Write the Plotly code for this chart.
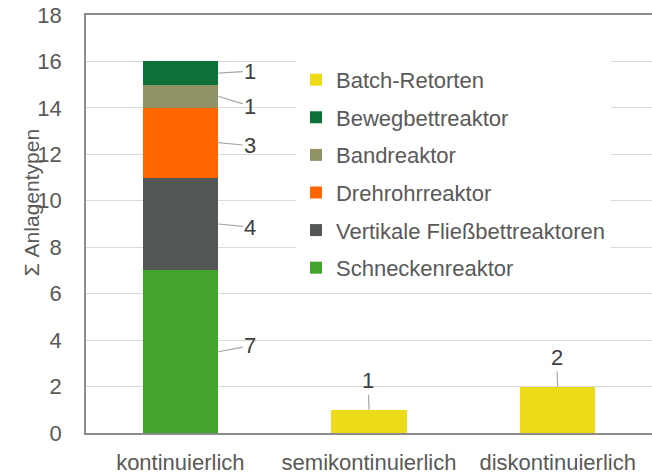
import plotly.graph_objects as go

categories = ["kontinuierlich", "semikontinuierlich", "diskontinuierlich"]
series_names = ["Schneckenreaktor", "Vertikale Fließbettreaktoren", "Drehrohrreaktor",
                "Bandreaktor", "Bewegbettreaktor", "Batch-Retorten"]
schnecken = [7, None, None]
vertikal = [4, None, None]
drehrohr = [3, None, None]
band = [1, None, None]
bewegbett = [1, None, None]
batch = [None, 1, 2]
values = [schnecken, vertikal, drehrohr, band, bewegbett, batch]
colors = ["#42A42C", "#525756", "#FF6600", "#909165", "#0E7039", "#EDDB1A"]
y_ticks = list(range(0, 19, 2))
y_title = "Σ Anlagentypen"

FONT = "Liberation Sans, Arial, sans-serif"
fig = go.Figure()
n = len(series_names)
for i, (name, vals, col) in enumerate(zip(series_names, values, colors)):
    fig.add_trace(go.Bar(x=categories, y=vals, name=name, marker_color=col,
                         marker_line_width=0, legendgroup=f"g{i}",
                         legendrank=100 + (n - i)))

# value labels with leader lines
base = [0, 0, 0]
for si, vals in enumerate(values):
    for ci, v in enumerate(vals):
        if v is None:
            continue
        mid = base[ci] + v / 2
        top = base[ci] + v
        base[ci] += v
        if ci == 0:
            ay = {0: -6, 1: 3, 2: 3, 3: 10, 4: -2}[si]
            fig.add_annotation(x=categories[ci], y=mid, xshift=38, ax=32, ay=ay,
                               text=str(v), showarrow=True, arrowhead=0, arrowwidth=1.2,
                               arrowcolor="#A6A6A6", standoff=0,
                               font=dict(family=FONT, size=22, color="#404040"))
        else:
            fig.add_annotation(x=categories[ci], y=top, ax=-1, ay=-29,
                               text=str(v), showarrow=True, arrowhead=0, arrowwidth=1.2,
                               arrowcolor="#A6A6A6", standoff=0,
                               font=dict(family=FONT, size=22, color="#404040"))

# y axis title
fig.add_annotation(xref="paper", yref="paper", x=-0.097, y=0.55, text=y_title,
                   textangle=-90, showarrow=False, xanchor="center", yanchor="middle",
                   font=dict(family=FONT, size=21, color="#595959"))

fig.update_layout(
    width=652, height=475,
    margin=dict(l=86, r=0, t=15, b=40),
    barmode="stack", bargap=0.6,
    plot_bgcolor="white", paper_bgcolor="white",
    font=dict(family=FONT, size=22, color="#595959"),
    legend=dict(traceorder="grouped", x=0.371, y=0.895, xanchor="left", yanchor="top",
                bgcolor="white", font=dict(family=FONT, size=22, color="#595959"),
                tracegroupgap=6, itemwidth=30),
    showlegend=True,
)
fig.update_xaxes(showline=True, linecolor="#8C8C8C", linewidth=1.5, mirror=True,
                 ticks="", ticklabelstandoff=9, tickfont=dict(size=22))
fig.update_yaxes(range=[0, 18], tickvals=y_ticks, showgrid=True, gridcolor="#D9D9D9",
                 gridwidth=1.2, showline=True, linecolor="#8C8C8C", linewidth=1.5,
                 zeroline=False, ticks="", ticklabelstandoff=18, tickfont=dict(size=22),
                 ticklabeloverflow="allow")

fig.write_html("out.html", config={"displayModeBar": False},
               post_script="document.body.style.margin='0';document.body.style.overflow='hidden';")
